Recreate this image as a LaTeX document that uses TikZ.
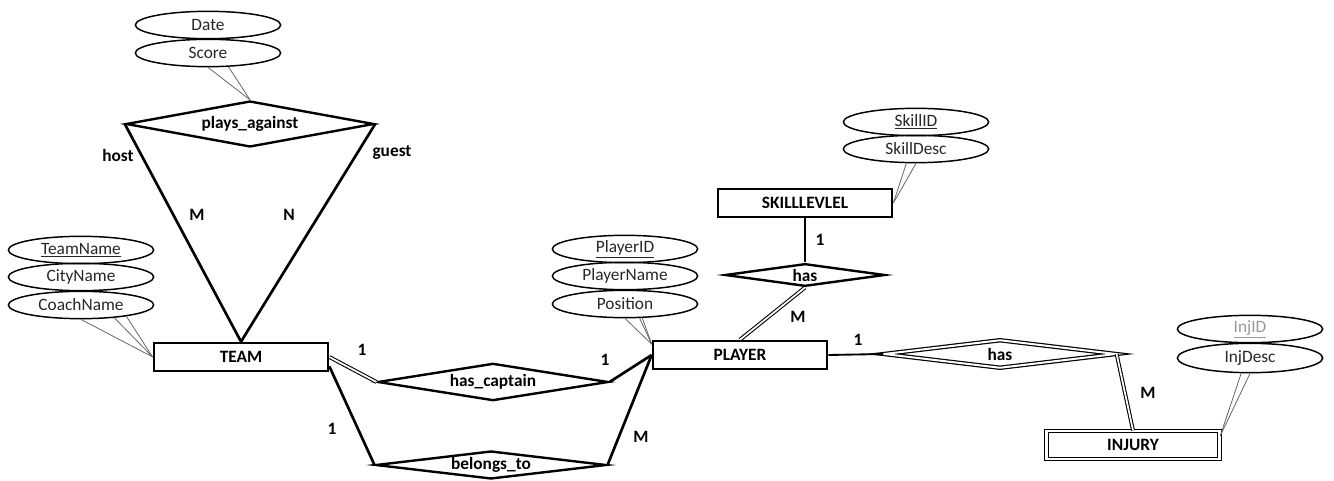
\documentclass[tikz,border=0pt]{standalone}
\usepackage{fontspec}
\setmainfont{Carlito}
\usepackage{tikz}
\usetikzlibrary{shapes.geometric}

\newcommand{\erfont}{\fontsize{13pt}{15pt}\selectfont}

\tikzset{
    entity/.style={draw, line width=2pt, minimum width=130.5pt, minimum height=21pt, inner sep=0pt, font=\erfont\bfseries},
    weakentity/.style={draw, double, double distance=1.8pt, line width=0.9pt, minimum width=130pt, minimum height=21pt, inner sep=0pt, font=\erfont\bfseries},
    attr/.style={draw, ellipse, line width=1.1pt, minimum width=109pt, minimum height=20.5pt, inner sep=0pt, text=black!85, font=\erfont},
    rel/.style={draw, diamond, line width=1.8pt, aspect=8, inner sep=0pt, font=\erfont\bfseries},
    weakrel/.style={rel, double, double distance=1.5pt, line width=0.9pt},
    conn/.style={line width=2pt},
    dconn/.style={double, double distance=1.3pt, line width=0.8pt},
    attrline/.style={black!60, line width=0.6pt},
    card/.style={font=\erfont\bfseries, inner sep=1pt},
}

\begin{document}
\begin{tikzpicture}[x=0.75pt, y=-0.75pt]
        \useasboundingbox (0,0) rectangle (1334,481);

        % Entities
        \node[entity] (team) at (241,357) {TEAM};
        \node[entity] (player) at (740,355) {PLAYER};
        \node[entity] (skill) at (805,203) {SKILLLEVLEL};
        \node[weakentity] (injury) at (1133,445) {INJURY};

        % Relationships
        \node[rel, minimum width=186pt, minimum height=34.5pt] (playsag) at (250,124) {plays\_against};
        \node[rel, minimum width=173pt, minimum height=28pt] (hascap) at (493,382) {has\_captain};
        \node[rel, minimum width=173pt, minimum height=21pt] (belongs) at (491,465) {belongs\_to};
        \node[rel, minimum width=120pt, minimum height=17pt] (hasskill) at (805,275) {has};
        \node[weakrel, minimum width=174pt, minimum height=21pt] (hasinj) at (1000,354) {has};

        % Attributes
        \node[attr] (date) at (208,25) {Date};
        \node[attr] (score) at (208,53) {Score};
        \node[attr] (teamname) at (81,250) {\underline{TeamName}};
        \node[attr] (cityname) at (81,277) {CityName};
        \node[attr] (coachname) at (81,305) {CoachName};
        \node[attr] (playerid) at (625,249) {\underline{PlayerID}};
        \node[attr] (playername) at (625,276) {PlayerName};
        \node[attr] (position) at (625,304) {Position};
        \node[attr] (skillid) at (916,122) {\underline{SkillID}};
        \node[attr] (skilldesc) at (916,149) {SkillDesc};
        \node[attr, text=black!40] (injid) at (1250,329) {\underline{InjID}};
        \node[attr, minimum height=22pt] (injdesc) at (1250,358) {InjDesc};

        % Attribute lines
        \draw[attrline] (score.270) -- (playsag.north);
        \draw[attrline] (score.-34) -- (playsag.north);
        \draw[attrline] (coachname.270) -- (team.west);
        \draw[attrline] (coachname.-21) -- (team.west);
        \draw[attrline] (coachname.-14) -- (team.west);
        \draw[attrline] (position.270) -- (player.173);
        \draw[attrline] (position.-44) -- (player.173);
        \draw[attrline] (position.-39) -- (player.173);
        \draw[attrline] (skilldesc.236) -- (skill.east);
        \draw[attrline] (skilldesc.270) -- (skill.east);
        \draw[attrline] (injdesc.240) -- (injury.6);
        \draw[attrline] (injdesc.270) -- (injury.6);

        % Connectors
        \draw[conn] (playsag.west) -- (team.north);
        \draw[conn] (playsag.east) -- (team.north);
        \draw[dconn] (team.east) -- (hascap.west);
        \draw[conn] (hascap.east) -- (player.west);
        \draw[conn] (team.-6) -- (belongs.west);
        \draw[conn] (belongs.east) -- (player.west);
        \draw[conn] (skill.south) -- (hasskill.north);
        \draw[dconn] (hasskill.south) -- (player.north);
        \draw[conn, line width=1.4pt] (player.east) -- (hasinj.west);
        \draw[dconn] (hasinj.east) -- (injury.north);

        % Role names and cardinalities
        \node[card] (lhost) at (118,155) {host};
        \node[card] (lguest) at (392,153) {guest};
        \node[card] (cteam1) at (197,215) {M};
        \node[card] (cteam2) at (289,215) {N};
        \node[card] (ccap1) at (362,350) {1};
        \node[card] (ccap2) at (605,360) {1};
        \node[card] (cbel1) at (332,429) {1};
        \node[card] (cbel2) at (641,437) {M};
        \node[card] (cskill1) at (820,240) {1};
        \node[card] (cskill2) at (798,317) {M};
        \node[card] (cinj1) at (858,340) {1};
        \node[card] (cinj2) at (1148,393) {M};
    \end{tikzpicture}
\end{document}
